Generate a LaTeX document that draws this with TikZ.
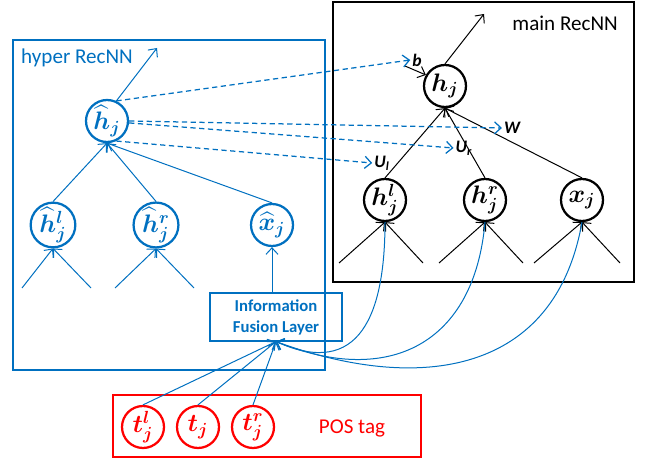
\documentclass[tikz,border=0pt]{standalone}
\usepackage{amsmath,bm}
\usepackage{fontspec}
\setmainfont{Carlito}
\usetikzlibrary{arrows.meta}
\definecolor{hblue}{RGB}{0,112,192}
\definecolor{tred}{RGB}{255,0,0}
\begin{document}
\begin{tikzpicture}[x=0.02cm,y=-0.02cm,
  unit/.style={circle,draw,line width=0.45mm,inner sep=0pt,minimum size=0.84cm,font=\fontsize{14.5}{16}\selectfont},
  tree/.style={line width=0.2mm,-{Straight Barb[length=1.3mm,width=2.4mm]}},
  dashedarrow/.style={hblue,line width=0.25mm,dash pattern=on 3pt off 2pt,-{Straight Barb[length=1.3mm,width=2.4mm]}},
  wlabel/.style={inner sep=1pt,font=\fontsize{10}{12}\selectfont\bfseries\itshape}]
\useasboundingbox (0,0) rectangle (646,459);

% main RecNN
\draw[line width=0.5mm] (333,2) rectangle (634,282);
\node[anchor=east,font=\fontsize{12}{14}\selectfont] (mainlbl) at (624,23) {main RecNN};
\node[unit] (h) at (445,86) {$\bm{h_j}$};
\node[unit] (hl) at (385,200) {$\bm{h_j^l}$};
\node[unit] (hr) at (485,200) {$\bm{h_j^r}$};
\node[unit] (x) at (582,200) {$\bm{x_j}$};
\coordinate (hout) at (484,14);
\draw[tree] (h.north) -- (hout);
\draw[tree] (hl.north) -- (h.south);
\draw[tree] (hr.north) -- (h.south);
\draw[tree] (x.north) -- (h.south);
\coordinate (l1) at (339,263); \coordinate (l2) at (423,263);
\coordinate (l3) at (439,263); \coordinate (l4) at (523,263);
\coordinate (l5) at (534,263); \coordinate (l6) at (620,263);
\draw[tree] (l1) -- (hl.south); \draw[tree] (l2) -- (hl.south);
\draw[tree] (l3) -- (hr.south); \draw[tree] (l4) -- (hr.south);
\draw[tree] (l5) -- (x.south);  \draw[tree] (l6) -- (x.south);
\node[wlabel] (b) at (417,60) {b};
\node[wlabel] (W) at (512,128) {W};
\node[wlabel] (Ur) at (464,148) {U\textsubscript{r}};
\node[wlabel] (Ul) at (382,163) {U\textsubscript{l}};
\coordinate (bin) at (405,66);
\draw[tree] (bin) -- (h.150);

% hyper RecNN
\begin{scope}[hblue]
\draw[line width=0.5mm] (13,40) rectangle (325,370);
\node[anchor=west,font=\fontsize{12}{14}\selectfont] (hyperlbl) at (15,58) {hyper RecNN};
\node[unit] (hh) at (107,121) {$\widehat{\bm{h}}_{\bm{j}}$};
\node[unit] (hhl) at (53,225) {$\widehat{\bm{h}}{}_{\bm{j}}^{\bm{l}}$};
\node[unit] (hhr) at (156,225) {$\widehat{\bm{h}}{}_{\bm{j}}^{\bm{r}}$};
\node[unit] (hx) at (272,225) {$\widehat{\bm{x}}_{\bm{j}}$};
\coordinate (hhout) at (157,48);
\draw[tree] (hh.65) -- (hhout);
\draw[tree] (hhl.north) -- (hh.south);
\draw[tree] (hhr.north) -- (hh.south);
\draw[tree] (hx.north) -- (hh.south);
\coordinate (k1) at (22,288); \coordinate (k2) at (91,288);
\coordinate (k3) at (115,288); \coordinate (k4) at (194,288);
\draw[tree] (k1) -- (hhl.south); \draw[tree] (k2) -- (hhl.south);
\draw[tree] (k3) -- (hhr.south); \draw[tree] (k4) -- (hhr.south);
\node[draw,line width=0.4mm,minimum width=2.66cm,minimum height=0.82cm,align=center,
  font=\fontsize{9.5}{12}\selectfont\bfseries] (fusion) at (276,317) {Information\\Fusion Layer};
\draw[tree] (fusion.north -| hx) -- (hx.south);
\end{scope}

% hyper to main
\draw[dashedarrow] (hh.65) -- (b.west);
\draw[dashedarrow] (hh.east) -- (W.west);
\draw[dashedarrow] (hh.-5) -- (Ur.west);
\draw[dashedarrow] (hh.-65) -- (Ul.west);

% main to fusion
\draw[tree,hblue] (hl.south) to[out=-90,in=-24,looseness=1.45] (fusion.south);
\draw[tree,hblue] (hr.south) to[out=-95,in=-22,looseness=1.3] (fusion.south);
\draw[tree,hblue] (x.south) to[out=-100,in=-20,looseness=1.2] (fusion.south);

% POS tags
\begin{scope}[tred]
\draw[line width=0.5mm] (113,395) rectangle (421,457);
\node[unit] (tl) at (143,427) {$\bm{t_j^l}$};
\node[unit] (t) at (198,427) {$\bm{t_j}$};
\node[unit] (tr) at (253,427) {$\bm{t_j^r}$};
\node[font=\fontsize{12}{14}\selectfont] (poslbl) at (352,428) {POS tag};
\end{scope}
\draw[tree,hblue] (tl.north) -- (fusion.south);
\draw[tree,hblue] (t.north) -- (fusion.south);
\draw[tree,hblue] (tr.north) -- (fusion.south);
\end{tikzpicture}
\end{document}
